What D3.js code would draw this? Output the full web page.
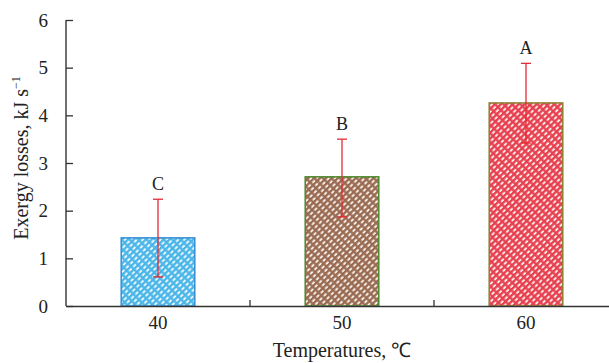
<!DOCTYPE html>
<html><head><meta charset="utf-8">
<script src="https://cdn.jsdelivr.net/npm/d3@7"></script>
<style>body{margin:0;background:#fff}svg{display:block}text{font-family:"Liberation Serif","Times New Roman",serif;fill:#222}</style>
</head><body><svg id="c" width="609" height="363"></svg>
<script>
const categories = ["40","50","60"];
const values = [1.43, 2.71, 4.26];
const errHigh = [2.24, 3.50, 5.09];
const errLow = [0.61, 1.87, 3.42];
const letters = ["C","B","A"];
const yTicks = [0,1,2,3,4,5,6];
const fills = ["#4ab6e8","#9a6a50","#e6404e"];
const strokes = ["#3a8ed4","#4c8a2c","#8a8030"];
const SERIF = '"Liberation Serif","Times New Roman",serif';

const svg = d3.select("#c");
const x = d3.scaleBand().domain(categories).range([66,618]).paddingInner(0.6).paddingOuter(0.3);
const y = d3.scaleLinear().domain([0,6]).range([306,20]);

const defs = svg.append("defs");
fills.forEach((c,i)=>{
  const p = defs.append("pattern").attr("id","p"+i).attr("patternUnits","userSpaceOnUse")
    .attr("width",4.2).attr("height",6).attr("patternTransform","rotate(45)");
  p.append("rect").attr("width",4.2).attr("height",6).attr("fill",c);
  p.append("rect").attr("x",0.6).attr("y",0.8).attr("width",1.9).attr("height",3.6).attr("fill","#fff").attr("opacity",0.9);
});

// bars
svg.selectAll(".bar").data(categories).enter().append("rect")
  .attr("x",d=>x(d)).attr("width",x.bandwidth())
  .attr("y",(d,i)=>y(values[i])).attr("height",(d,i)=>y(0)-y(values[i]))
  .attr("fill",(d,i)=>"url(#p"+i+")").attr("stroke",(d,i)=>strokes[i]).attr("stroke-width",1.5);

// error bars
const eb = svg.selectAll(".eb").data(categories).enter().append("g").attr("stroke","#e52a34").attr("stroke-width",1.3);
eb.append("line").attr("x1",d=>x(d)+x.bandwidth()/2).attr("x2",d=>x(d)+x.bandwidth()/2)
  .attr("y1",(d,i)=>y(errHigh[i])).attr("y2",(d,i)=>y(errLow[i]));
eb.append("line").attr("x1",d=>x(d)+x.bandwidth()/2-5).attr("x2",d=>x(d)+x.bandwidth()/2+5)
  .attr("y1",(d,i)=>y(errHigh[i])).attr("y2",(d,i)=>y(errHigh[i]));
eb.append("line").attr("x1",d=>x(d)+x.bandwidth()/2-5).attr("x2",d=>x(d)+x.bandwidth()/2+5)
  .attr("y1",(d,i)=>y(errLow[i])).attr("y2",(d,i)=>y(errLow[i]));

// letters
svg.selectAll(".lt").data(categories).enter().append("text")
  .attr("x",d=>x(d)+x.bandwidth()/2).attr("y",(d,i)=>y(errHigh[i])-9)
  .attr("text-anchor","middle").attr("font-size",18).text((d,i)=>letters[i]);

// y axis (inward ticks)
const ya = svg.append("g").attr("transform","translate(66,0)")
  .call(d3.axisLeft(y).tickValues(yTicks).tickSize(-7).tickPadding(18).tickFormat(d3.format("d")));
ya.attr("font-family",SERIF);
ya.select(".domain").attr("stroke","#333").attr("stroke-width",1.4).attr("d","M0,306V20");
ya.selectAll(".tick line").attr("stroke","#333").attr("stroke-width",1.3);
ya.selectAll("text").style("font-family",SERIF).attr("font-size",19).attr("fill","#222");

// x axis
const xa = svg.append("g").attr("transform","translate(0,306)")
  .call(d3.axisBottom(x).tickSize(0).tickPadding(10));
xa.attr("font-family",SERIF);
xa.select(".domain").attr("stroke","#333").attr("stroke-width",1.4);
xa.selectAll("text").style("font-family",SERIF).attr("font-size",19).attr("fill","#222");
const bounds = categories.slice(1).map(d=>x(d)-x.step()*x.paddingInner()/2);
xa.selectAll(".bt").data(bounds).enter().append("line")
  .attr("x1",d=>d).attr("x2",d=>d).attr("y1",0).attr("y2",-6).attr("stroke","#333").attr("stroke-width",1.3);

// titles
svg.append("text").attr("x",342).attr("y",357).attr("text-anchor","middle").attr("font-size",20).text("Temperatures, \u2103");
const yt = svg.append("text").attr("transform","translate(28,158) rotate(-90)").attr("text-anchor","middle").attr("font-size",20);
yt.append("tspan").text("Exergy losses, kJ s");
yt.append("tspan").attr("font-size",12).attr("dy",-8).text("\u22121");
</script></body></html>
